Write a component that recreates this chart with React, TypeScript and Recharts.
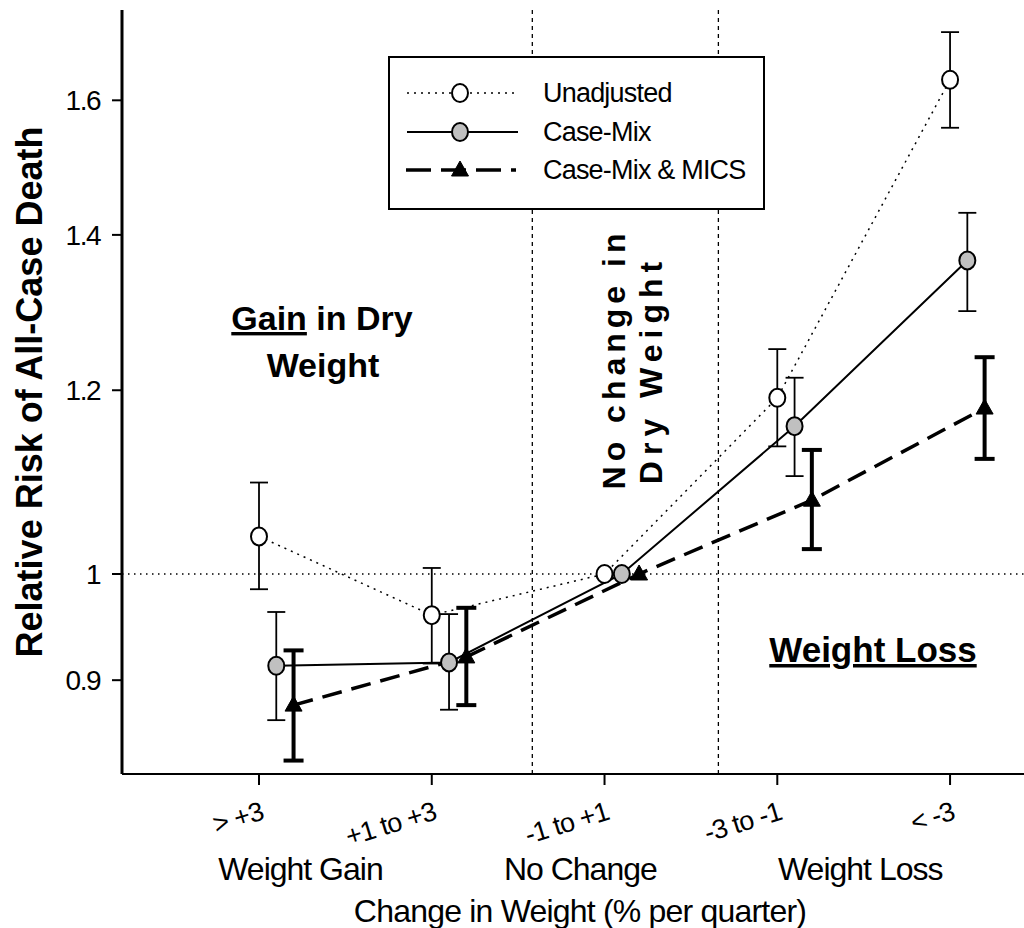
import React from 'react';
import {
  ComposedChart,
  Line,
  XAxis,
  YAxis,
  ErrorBar,
  ReferenceLine,
  Legend,
  Customized,
} from 'recharts';

// ---------- data ----------
const CATEGORIES = ['> +3', '+1 to +3', '-1 to +1', '-3 to -1', '< -3'];
const GROUP_LABELS = ['Weight Gain', 'No Change', 'Weight Loss'];
const GROUP_POSITIONS = [0.24, 1.86, 3.48];
const Y_TICKS = [0.9, 1, 1.2, 1.4, 1.6];
const DIVIDERS = [1.582, 2.659];

const UNADJ = [1.038, 0.96, 1.0, 1.191, 1.633];
const UNADJ_LOW = [0.985, 0.915, null, 1.135, 1.557];
const UNADJ_HIGH = [1.095, 1.006, null, 1.25, 1.712];

const CASEMIX = [0.913, 0.916, 1.0, 1.158, 1.365];
const CASEMIX_LOW = [0.865, 0.874, null, 1.102, 1.298];
const CASEMIX_HIGH = [0.963, 0.961, null, 1.215, 1.431];

const MICS = [0.878, 0.921, 1.0, 1.076, 1.179];
const MICS_LOW = [0.831, 0.878, null, 1.025, 1.121];
const MICS_HIGH = [0.927, 0.967, null, 1.131, 1.24];

const SERIES_NAMES = ['Unadjusted', 'Case-Mix', 'Case-Mix & MICS'];
const SERIES_OFFSETS = [0, 0.1, 0.2];

const X_DOMAIN: [number, number] = [-0.793, 4.428];
const Y_DOMAIN: [number, number] = [0.82, 1.75];

const FONT = '"Liberation Sans", Arial, Helvetica, sans-serif';

type Pt = { x: number; y: number; err: [number, number] | null };

const build = (
  vals: number[],
  lows: (number | null)[],
  highs: (number | null)[],
  offset: number
): Pt[] =>
  vals.map((v, i) => ({
    x: i + offset,
    y: v,
    err:
      lows[i] == null || highs[i] == null
        ? null
        : [v - (lows[i] as number), (highs[i] as number) - v],
  }));

const unadjData = build(UNADJ, UNADJ_LOW, UNADJ_HIGH, SERIES_OFFSETS[0]);
const caseMixData = build(CASEMIX, CASEMIX_LOW, CASEMIX_HIGH, SERIES_OFFSETS[1]);
const micsData = build(MICS, MICS_LOW, MICS_HIGH, SERIES_OFFSETS[2]);

// ---------- markers ----------
const Ellipse = ({ cx, cy, fill }: { cx: number; cy: number; fill: string }) => (
  <ellipse cx={cx} cy={cy} rx={8} ry={9} fill={fill} stroke="#000" strokeWidth={2} />
);
const Triangle = ({ cx, cy }: { cx: number; cy: number }) => (
  <path
    d={`M${cx},${cy - 9} L${cx + 8.5},${cy + 6} L${cx - 8.5},${cy + 6} Z`}
    fill="#000"
    stroke="#000"
    strokeWidth={1}
  />
);

const makeDot = (kind: number) => (props: any) => {
  const { cx, cy, index } = props;
  if (cx == null || cy == null) return <g key={`d${kind}-${index}`} />;
  if (kind === 2) return <Triangle key={`d${kind}-${index}`} cx={cx} cy={cy} />;
  return (
    <Ellipse key={`d${kind}-${index}`} cx={cx} cy={cy} fill={kind === 0 ? '#ffffff' : '#c0c0c0'} />
  );
};

// ---------- ticks ----------
const CategoryTick = (props: any) => {
  const { x, y, payload } = props;
  const tx = x + 6;
  const ty = y + 34;
  return (
    <text
      x={tx}
      y={ty}
      transform={`rotate(-17 ${tx} ${ty})`}
      textAnchor="end"
      fontSize={27}
      fontFamily={FONT}
      letterSpacing={-0.8}
      fill="#000"
    >
      {CATEGORIES[Math.round(payload.value)]}
    </text>
  );
};

const GroupTick = (props: any) => {
  const { x, y, index } = props;
  return (
    <text
      x={x}
      y={y + 36}
      textAnchor="middle"
      fontSize={32}
      fontFamily={FONT}
      letterSpacing={-1}
      fill="#000"
    >
      {GROUP_LABELS[index]}
    </text>
  );
};

const XTitle = (props: any) => {
  const vb = props.viewBox || {};
  const cx = vb.x + vb.width / 2 + 7;
  const by = vb.y + vb.height - 6;
  return (
    <text x={cx} y={by} textAnchor="middle" fontSize={32} fontFamily={FONT} letterSpacing={-0.8} fill="#000">
      Change in Weight (% per quarter)
    </text>
  );
};

const YTitle = (props: any) => {
  const vb = props.viewBox || {};
  const cy = vb.y + vb.height / 2;
  const bx = 42;
  return (
    <text
      x={bx}
      y={cy}
      transform={`rotate(-90 ${bx} ${cy})`}
      textAnchor="middle"
      fontSize={36}
      fontWeight="bold"
      fontFamily={FONT}
      fill="#000"
    >
      Relative Risk of All-Case Death
    </text>
  );
};

// ---------- legend ----------
const LegendBox = () => {
  const rows = [35, 74, 112];
  return (
    <div
      style={{
        width: 377,
        height: 154,
        border: '2px solid #000',
        background: '#fff',
        boxSizing: 'border-box',
      }}
    >
      <svg width={373} height={150} style={{ display: 'block' }}>
        {SERIES_NAMES.map((name, i) => {
          const y = rows[i];
          return (
            <g key={name}>
              {i === 0 && (
                <line x1={17} y1={y} x2={125} y2={y} stroke="#000" strokeWidth={1.5} strokeDasharray="2 5" />
              )}
              {i === 1 && <line x1={17} y1={y} x2={128} y2={y} stroke="#000" strokeWidth={2} />}
              {i === 2 && (
                <line x1={16} y1={y} x2={126} y2={y} stroke="#000" strokeWidth={3.5} strokeDasharray="25 10" />
              )}
              {i === 0 && <Ellipse cx={70} cy={y} fill="#ffffff" />}
              {i === 1 && <Ellipse cx={70} cy={y} fill="#c0c0c0" />}
              {i === 2 && <Triangle cx={70} cy={y} />}
              <text x={153} y={y + 9} fontSize={27} fontFamily={FONT} letterSpacing={-0.8} fill="#000">
                {name}
              </text>
            </g>
          );
        })}
      </svg>
    </div>
  );
};

// ---------- annotations ----------
const Annotations = () => (
  <g fontFamily={FONT} fontWeight="bold" fill="#000">
    <text x={322} y={330} textAnchor="middle" fontSize={34}>
      <tspan style={{ textDecoration: 'underline' }}>Gain</tspan>
      <tspan> in Dry</tspan>
    </text>
    <text x={323} y={377} textAnchor="middle" fontSize={34}>
      Weight
    </text>
    <text
      x={625}
      y={359}
      transform="rotate(-90 625 359)"
      textAnchor="middle"
      fontSize={32}
      letterSpacing={5}
    >
      No change in
    </text>
    <text
      x={662}
      y={370}
      transform="rotate(-90 662 370)"
      textAnchor="middle"
      fontSize={32}
      letterSpacing={6}
    >
      Dry Weight
    </text>
    <text x={873} y={662} textAnchor="middle" fontSize={35} style={{ textDecoration: 'underline' }}>
      Weight Loss
    </text>
  </g>
);

export default function App() {
  return (
    <div style={{ position: 'absolute', left: 0, top: 0, width: 1024, height: 928, background: '#fff' }}>
      <ComposedChart
        width={1024}
        height={928}
        margin={{ top: 10, right: 0, bottom: 0, left: 0 }}
        style={{ fontFamily: FONT }}
      >
        <XAxis
          xAxisId={0}
          type="number"
          dataKey="x"
          domain={X_DOMAIN}
          allowDataOverflow
          ticks={[0, 1, 2, 3, 4]}
          interval={0}
          height={70}
          tickSize={11}
          tickMargin={0}
          axisLine={{ stroke: '#000', strokeWidth: 2 }}
          tickLine={{ stroke: '#000', strokeWidth: 2 }}
          tick={<CategoryTick />}
        />
        <XAxis
          xAxisId="grp"
          type="number"
          dataKey="x"
          domain={X_DOMAIN}
          allowDataOverflow
          ticks={GROUP_POSITIONS}
          interval={0}
          height={84}
          tickSize={0}
          tickMargin={0}
          axisLine={false}
          tickLine={false}
          tick={<GroupTick />}
          label={<XTitle />}
        />
        <XAxis
          xAxisId="top"
          orientation="top"
          type="number"
          dataKey="x"
          domain={X_DOMAIN}
          allowDataOverflow
          height={0}
          tick={false}
          tickLine={false}
          axisLine={{ stroke: '#000', strokeWidth: 3 }}
        />
        <YAxis
          yAxisId={0}
          scale="log"
          type="number"
          domain={Y_DOMAIN}
          allowDataOverflow
          ticks={Y_TICKS}
          interval={0}
          width={122}
          tickSize={10}
          tickMargin={12}
          axisLine={{ stroke: '#000', strokeWidth: 3 }}
          tickLine={{ stroke: '#000', strokeWidth: 2 }}
          tick={{ fontSize: 28, fill: '#000', fontFamily: FONT, letterSpacing: -1.5 }}
          tickFormatter={(v: number) => String(v)}
          label={<YTitle />}
        />

        <ReferenceLine
          xAxisId={0}
          yAxisId={0}
          y={1}
          stroke="#000"
          strokeWidth={1.3}
          strokeDasharray="1.5 4.5"
        />
        {DIVIDERS.map((d) => (
          <ReferenceLine
            key={d}
            xAxisId={0}
            yAxisId={0}
            x={d}
            stroke="#000"
            strokeWidth={1.3}
            strokeDasharray="4 4"
          />
        ))}

        <Line
          xAxisId={0}
          yAxisId={0}
          data={unadjData}
          dataKey="y"
          name={SERIES_NAMES[0]}
          stroke="#000"
          strokeWidth={1.5}
          strokeDasharray="2 5"
          dot={makeDot(0)}
          activeDot={false}
          isAnimationActive={false}
          legendType="none"
        >
          <ErrorBar dataKey="err" direction="y" width={9} strokeWidth={1.8} stroke="#000" />
        </Line>
        <Line
          xAxisId={0}
          yAxisId={0}
          data={caseMixData}
          dataKey="y"
          name={SERIES_NAMES[1]}
          stroke="#000"
          strokeWidth={2}
          dot={makeDot(1)}
          activeDot={false}
          isAnimationActive={false}
          legendType="none"
        >
          <ErrorBar dataKey="err" direction="y" width={9} strokeWidth={1.8} stroke="#000" />
        </Line>
        <Line
          xAxisId={0}
          yAxisId={0}
          data={micsData}
          dataKey="y"
          name={SERIES_NAMES[2]}
          stroke="#000"
          strokeWidth={3.5}
          strokeDasharray="20 10"
          dot={makeDot(2)}
          activeDot={false}
          isAnimationActive={false}
          legendType="none"
        >
          <ErrorBar dataKey="err" direction="y" width={10} strokeWidth={4} stroke="#000" />
        </Line>

        <Customized component={<Annotations />} />

        <Legend
          layout="horizontal"
          align="center"
          verticalAlign="middle"
          content={() => <LegendBox />}
          wrapperStyle={{ position: 'absolute', left: 388, top: 56, width: 377, height: 154 }}
        />
      </ComposedChart>
    </div>
  );
}
